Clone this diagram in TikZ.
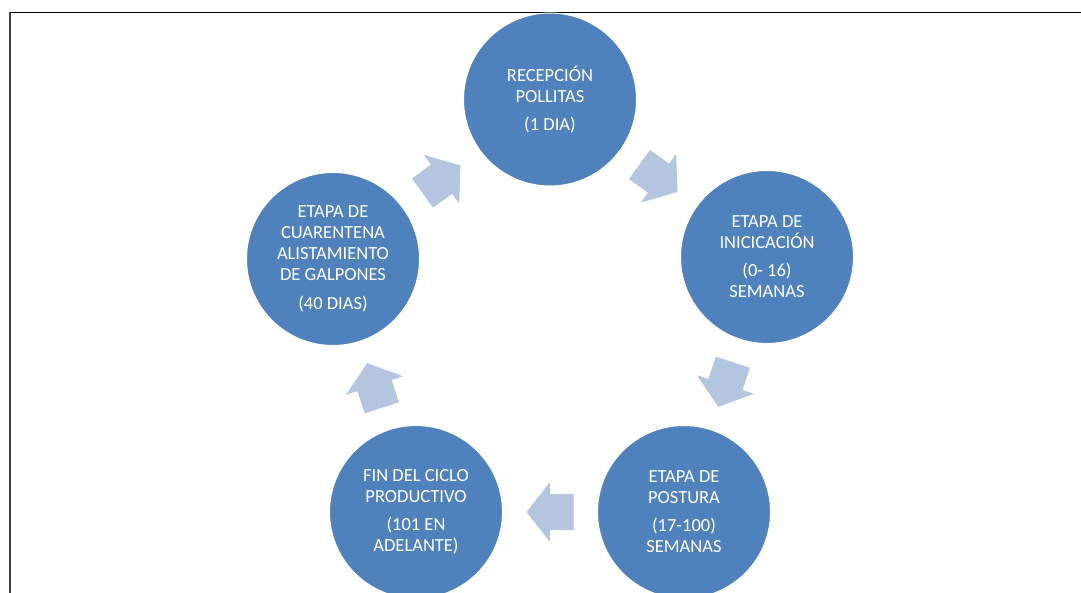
\documentclass[tikz,border=0pt]{standalone}
\usepackage{fontspec}
\setmainfont{Carlito}
\usetikzlibrary{calc}
\definecolor{stageblue}{RGB}{79,129,189}
\definecolor{flowblue}{RGB}{180,197,223}
\begin{document}
\begin{tikzpicture}[x=1pt,y=-1pt,
  stage/.style={circle, fill=stageblue, draw=white, line width=1pt,
    minimum size=173pt, inner sep=0pt, text=white, align=center,
    font=\fontsize{18.5}{21}\selectfont},
  flowarrow/.pic={
    \fill[flowblue] (-23.5,-18) -- (0,-18) -- (0,-30) -- (23.5,0)
      -- (0,30) -- (0,18) -- (-23.5,18) -- cycle;}
]
\useasboundingbox (0,0) rectangle (1081,593);
% page frame
\draw[line width=1.3pt] (9,12.5) -- (1081,12.5);
\draw[line width=2.4pt, black!75] (9.8,12) -- (9.8,593);

% stages of the cycle
\node[stage] (recepcion)  at (550,99.5)  {RECEPCIÓN\\POLLITAS\\[7pt](1 DIA)};
\node[stage] (iniciacion) at (767,257)   {ETAPA DE\\INICICACIÓN\\[7pt](0- 16)\\SEMANAS};
\node[stage] (postura)    at (684,512)   {ETAPA DE\\POSTURA\\[7pt](17-100)\\SEMANAS};
\node[stage] (fin)        at (416,512)   {FIN DEL CICLO\\PRODUCTIVO\\[7pt](101 EN\\ADELANTE)};
\node[stage] (cuarentena) at (333,259)   {ETAPA DE\\CUARENTENA\\ALISTAMIENTO\\DE GALPONES\\[8pt](40 DIAS)};

% block arrows between consecutive stages
\coordinate (a1) at ($(recepcion)!0.5!(iniciacion)$);
\coordinate (a2) at ($(iniciacion)!0.5!(postura)$);
\coordinate (a3) at ($(postura)!0.5!(fin)$);
\coordinate (a4) at ($(fin)!0.5!(cuarentena)$);
\coordinate (a5) at ($(cuarentena)!0.5!(recepcion)$);
\pic[rotate=-36]  at (a1) {flowarrow};
\pic[rotate=-108] at (a2) {flowarrow};
\pic[rotate=180]  at (a3) {flowarrow};
\pic[rotate=108]  at (a4) {flowarrow};
\pic[rotate=36]   at (a5) {flowarrow};
\end{tikzpicture}
\end{document}
